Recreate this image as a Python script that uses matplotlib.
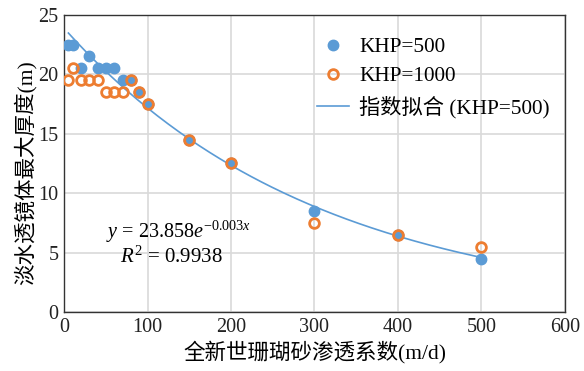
import matplotlib
matplotlib.use("Agg")
import matplotlib.pyplot as plt
import numpy as np

plt.rcParams['font.family'] = ['Liberation Serif', 'Noto Sans CJK SC']
plt.rcParams['mathtext.fontset'] = 'custom'
plt.rcParams['mathtext.rm'] = 'Liberation Serif'
plt.rcParams['mathtext.it'] = 'Liberation Serif:italic'

# data
k_500_x = [5, 10, 20, 30, 40, 50, 60, 70, 80, 90, 100, 150, 200, 300, 400, 500]
k_500_y = [22.5, 22.5, 20.5, 21.5, 20.5, 20.5, 20.5, 19.5, 19.5, 18.5, 17.5, 14.5, 12.5, 8.5, 6.5, 4.5]
k_1000_x = [5, 10, 20, 30, 40, 50, 60, 70, 80, 90, 100, 150, 200, 300, 400, 500]
k_1000_y = [19.5, 20.5, 19.5, 19.5, 19.5, 18.5, 18.5, 18.5, 19.5, 18.5, 17.5, 14.5, 12.5, 7.5, 6.5, 5.5]

blue = '#5b9bd5'
orange = '#ed7d31'

fig = plt.figure(figsize=(5.84, 3.71), dpi=100)
ax = fig.add_axes([0.110, 0.159, 0.857, 0.801])

# exponential trendline fitted on KHP=500 (like excel does)
b, lna = np.polyfit(k_500_x, np.log(k_500_y), 1)
xf = np.linspace(min(k_500_x), max(k_500_x), 200)
yf = np.exp(lna) * np.exp(b * xf)

ax.plot(k_500_x, k_500_y, 'o', color=blue, markersize=7.5, label='KHP=500', zorder=3)
ax.plot(k_1000_x, k_1000_y, 'o', color=orange, markerfacecolor='none',
        markeredgewidth=2, markersize=7, label='KHP=1000', zorder=4)
ax.plot(xf, yf, '-', color=blue, lw=1.2, label='指数拟合 (KHP=500)', zorder=2)

ax.set_xlim(0, 600)
ax.set_ylim(0, 25)
ax.set_xticks(range(0, 601, 100))
ax.set_yticks(range(0, 26, 5))
ax.grid(True, color='#d9d9d9', lw=1.2)
ax.set_axisbelow(True)
ax.tick_params(length=0, labelsize=14.5, pad=4, colors='#222222')
for s in ax.spines.values():
    s.set_color('#333333')
    s.set_linewidth(1.0)

ax.set_xlabel('全新世珊瑚砂渗透系数(m/d)', fontsize=15.5, labelpad=3)
ax.set_ylabel('淡水透镜体最大厚度(m)', fontsize=15.5)
ax.yaxis.set_label_coords(-0.056, 0.47)

ax.text(137, 6.7, r'$y$ = 23.858$e^{-0.003x}$', fontsize=14.5, ha='center', va='center')
ax.text(129, 4.6, r'$R^2$ = 0.9938', fontsize=15, ha='center', va='center')

leg = ax.legend(loc='upper right', frameon=False, fontsize=15.3, handlelength=1.5,
                handletextpad=0.5, borderaxespad=0.3, labelspacing=0.45,
                bbox_to_anchor=(1.0, 0.975))

fig.savefig('out.png', dpi=100)
